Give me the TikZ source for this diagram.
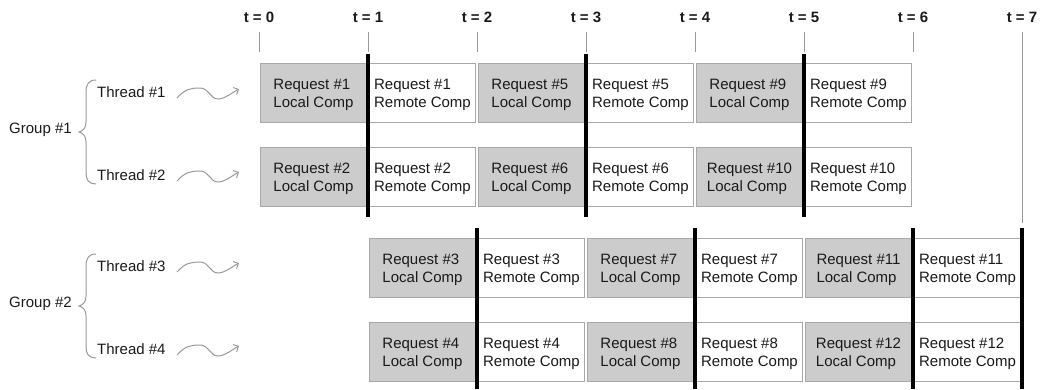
\documentclass[tikz,border=0pt]{standalone}
\usepackage{fontspec}
\setmainfont{Liberation Sans}
\usetikzlibrary{arrows.meta}
\definecolor{boxgrey}{HTML}{CCCCCC}
\definecolor{edgegrey}{HTML}{A8A8A8}
\definecolor{linegrey}{HTML}{999999}
\definecolor{txt}{HTML}{1A1A1A}
\begin{document}
\begin{tikzpicture}[x=1pt,y=-1pt,
  reqbox/.style={draw=edgegrey, line width=1.2pt, minimum width=106pt, minimum height=59pt,
    inner sep=0pt},
  reqtext/.style={align=left, font=\fontsize{15}{18}\selectfont, text=txt, inner sep=0pt, yshift=-2pt},
  localbox/.style={reqbox, fill=boxgrey},
  remotebox/.style={reqbox, fill=white},
  tickline/.style={draw=linegrey, line width=1pt},
  barrier/.style={draw=black, line width=4pt},
  tlabel/.style={font=\bfseries\fontsize{15}{18}\selectfont, text=txt, inner sep=0pt},
  sidelabel/.style={font=\fontsize{15}{18}\selectfont, text=txt, inner sep=0pt, anchor=west},
  bracepath/.style={draw=linegrey, line width=1pt},
  wave/.style={draw=linegrey, line width=1pt, -{Straight Barb[length=4pt,width=8pt]}}]
\useasboundingbox (0,0) rectangle (1040,389);

% time labels and ticks
\foreach \i in {0,...,7} {
  \pgfmathsetmacro\tx{259+109*\i}
  \node[tlabel] (t\i) at (\tx,17) {t = \i};
  \coordinate (ta\i) at (\tx,32);
  \coordinate (tb\i) at (\tx,52);
}
\foreach \i in {0,...,6} { \draw[tickline] (ta\i) -- (tb\i); }
\coordinate (tc7) at (1022,223);
\draw[tickline] (ta7) -- (tc7);

% request boxes
\foreach \k in {0,1,2} {
  \pgfmathtruncatemacro\na{4*\k+1}
  \pgfmathtruncatemacro\nb{4*\k+2}
  \pgfmathtruncatemacro\nc{4*\k+3}
  \pgfmathtruncatemacro\nd{4*\k+4}
  \pgfmathsetmacro\xl{313.5+218*\k}
  \pgfmathsetmacro\xr{422.5+218*\k}
  \pgfmathsetmacro\xs{531.5+218*\k}
  \node[localbox, label={[reqtext]center:Request \#\na\\Local Comp}]   (L\na) at (\xl,93)  {};
  \node[remotebox, label={[reqtext]center:Request \#\na\\Remote Comp}] (R\na) at (\xr,93)  {};
  \node[localbox, label={[reqtext]center:Request \#\nb\\Local Comp}]   (L\nb) at (\xl,177) {};
  \node[remotebox, label={[reqtext]center:Request \#\nb\\Remote Comp}] (R\nb) at (\xr,177) {};
  \node[localbox, label={[reqtext]center:Request \#\nc\\Local Comp}]   (L\nc) at (\xr,268) {};
  \node[remotebox, label={[reqtext]center:Request \#\nc\\Remote Comp}] (R\nc) at (\xs,268) {};
  \node[localbox, label={[reqtext]center:Request \#\nd\\Local Comp}]   (L\nd) at (\xr,352) {};
  \node[remotebox, label={[reqtext]center:Request \#\nd\\Remote Comp}] (R\nd) at (\xs,352) {};
}

% synchronisation barriers
\foreach \i in {1,3,5} {
  \pgfmathsetmacro\tx{259+109*\i}
  \coordinate (ba\i) at (\tx,54);
  \coordinate (bb\i) at (\tx,217);
  \draw[barrier] (ba\i) -- (bb\i);
}
\foreach \i in {2,4,6,7} {
  \pgfmathsetmacro\tx{259+109*\i}
  \coordinate (ba\i) at (\tx,228);
  \coordinate (bb\i) at (\tx,389);
  \draw[barrier] (ba\i) -- (bb\i);
}

% left side: groups, braces, threads, waves
\foreach \g/\ta/\tb/\dy in {1/1/2/0, 2/3/4/174} {
  \node[sidelabel] (G\g) at (9,130+\dy) {Group \#\g};
  \node[sidelabel] (T\ta) at (97,92+\dy) {Thread \#\ta};
  \node[sidelabel] (T\tb) at (97,175+\dy) {Thread \#\tb};
  \draw[bracepath] (96,80+\dy) .. controls (89,80+\dy) and (86,84+\dy) .. (86,92+\dy)
    -- (86,122+\dy) .. controls (86,128+\dy) and (83,131+\dy) .. (79,132+\dy)
    .. controls (83,133+\dy) and (86,136+\dy) .. (86,142+\dy)
    -- (86,173+\dy) .. controls (86,180+\dy) and (89,184+\dy) .. (96,184+\dy);
  \foreach \t/\yy in {\ta/92, \tb/175} {
    \coordinate (ws\t) at (177,\yy+6+\dy);
    \coordinate (we\t) at (239,\yy-3+\dy);
    \draw[wave] (ws\t) .. controls +(8,-9) and +(-9,0) .. ++(23,-10)
      .. controls +(9,0) and +(-8,0) .. ++(18,11)
      .. controls +(7,0) and +(-6,3) .. (we\t);
  }
}
\end{tikzpicture}
\end{document}
